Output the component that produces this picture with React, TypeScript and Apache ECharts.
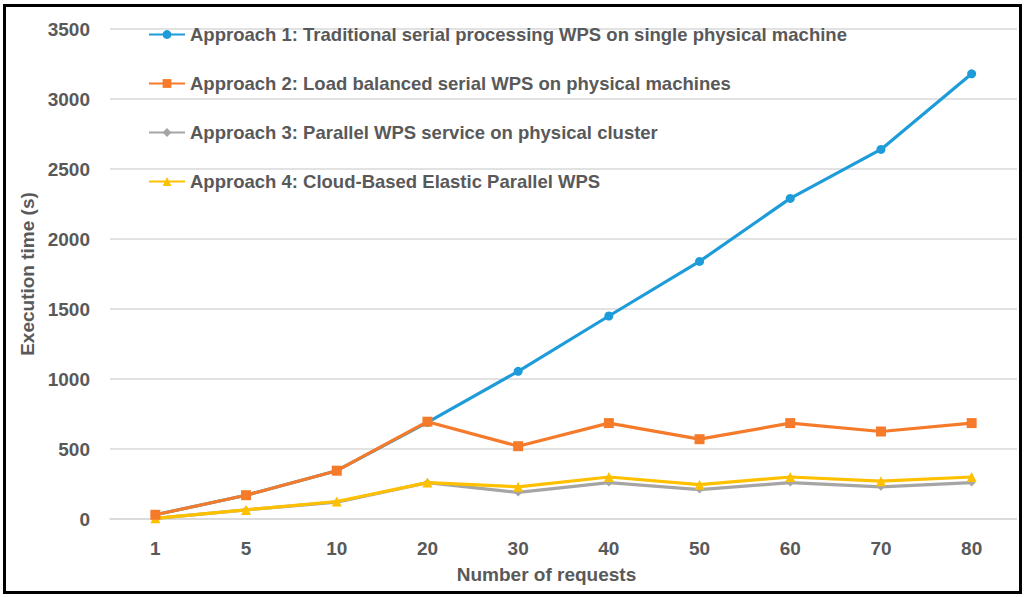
import React, { useEffect, useRef } from "react";
import * as echarts from "echarts";

const categories = ["1", "5", "10", "20", "30", "40", "50", "60", "70", "80"];
const approach1 = [30, 170, 345, 690, 1055, 1450, 1840, 2290, 2640, 3180];
const approach2 = [30, 170, 345, 695, 520, 685, 570, 685, 625, 685];
const approach3 = [5, 65, 120, 260, 190, 260, 210, 260, 230, 260];
const approach4 = [5, 65, 125, 260, 230, 300, 245, 300, 270, 300];
const seriesNames = [
  "Approach 1: Traditional serial processing WPS on single physical machine",
  "Approach 2: Load balanced serial WPS on physical machines",
  "Approach 3: Parallel WPS service on physical cluster",
  "Approach 4: Cloud-Based Elastic Parallel WPS",
];

const FONT = "'Liberation Sans', Arial, sans-serif";
const TXT = "#595959";
const FS = 18.5;
const FSA = 19;

export default function App() {
  const ref = useRef<HTMLDivElement>(null);
  useEffect(() => {
    if (!ref.current) return;
    const chart = echarts.init(ref.current, undefined, { renderer: "svg" });
    const mk = (name: string, data: number[], color: string, symbol: string, size: number, z: number) => ({
      name,
      type: "line",
      data,
      symbol,
      symbolSize: size,
      z,
      lineStyle: { color, width: 3.2 },
      itemStyle: { color },
    });
    chart.setOption({
      animation: false,
      backgroundColor: "#fff",
      textStyle: { fontFamily: FONT },
      grid: { left: 105, right: 0, top: 23, bottom: 57, containLabel: false },
      legend: {
        orient: "vertical",
        left: 138,
        top: 14,
        itemGap: 30,
        itemWidth: 36,
        itemHeight: 11,
        textStyle: { fontFamily: FONT, fontSize: FS, fontWeight: "bold", color: TXT },
        data: seriesNames,
      },
      xAxis: {
        type: "category",
        data: categories,
        boundaryGap: true,
        name: "Number of requests",
        nameLocation: "middle",
        nameGap: 46,
        nameTextStyle: {
          fontFamily: FONT,
          fontSize: FSA,
          fontWeight: "bold",
          color: TXT,
          padding: [0, 34, 0, 0],
        },
        axisLine: { lineStyle: { color: "#D9D9D9", width: 1.5 } },
        axisTick: { show: false },
        axisLabel: { fontFamily: FONT, fontSize: FSA, fontWeight: "bold", color: TXT, margin: 20 },
      },
      yAxis: {
        type: "value",
        min: 0,
        max: 3500,
        interval: 500,
        name: "Execution time (s)",
        nameLocation: "middle",
        nameGap: 72,
        nameTextStyle: { fontFamily: FONT, fontSize: FSA, fontWeight: "bold", color: TXT },
        axisLine: { show: false },
        axisTick: { show: false },
        splitLine: { lineStyle: { color: "#D9D9D9", width: 1.5 } },
        axisLabel: {
          fontFamily: FONT,
          fontSize: FSA,
          fontWeight: "bold",
          color: TXT,
          margin: 20,
          formatter: (v: number) => String(v),
        },
      },
      series: [
        mk(seriesNames[0], approach1, "#1E9CD9", "circle", 9, 2),
        mk(seriesNames[1], approach2, "#F57B2B", "rect", 10, 3),
        mk(seriesNames[2], approach3, "#A5A5A5", "diamond", 8, 1),
        mk(seriesNames[3], approach4, "#FFC000", "triangle", 10, 2),
      ],
    });
    return () => chart.dispose();
  }, []);
  return (
    <div style={{ position: "fixed", left: 0, top: 0, width: 1024, height: 597, background: "#fff" }}>
      <div ref={ref} style={{ position: "absolute", left: 5, top: 6, width: 1012, height: 583 }} />
      <div
        style={{
          position: "absolute",
          left: 3,
          top: 4,
          width: 1013,
          height: 584,
          border: "3px solid #000",
          pointerEvents: "none",
        }}
      />
    </div>
  );
}
